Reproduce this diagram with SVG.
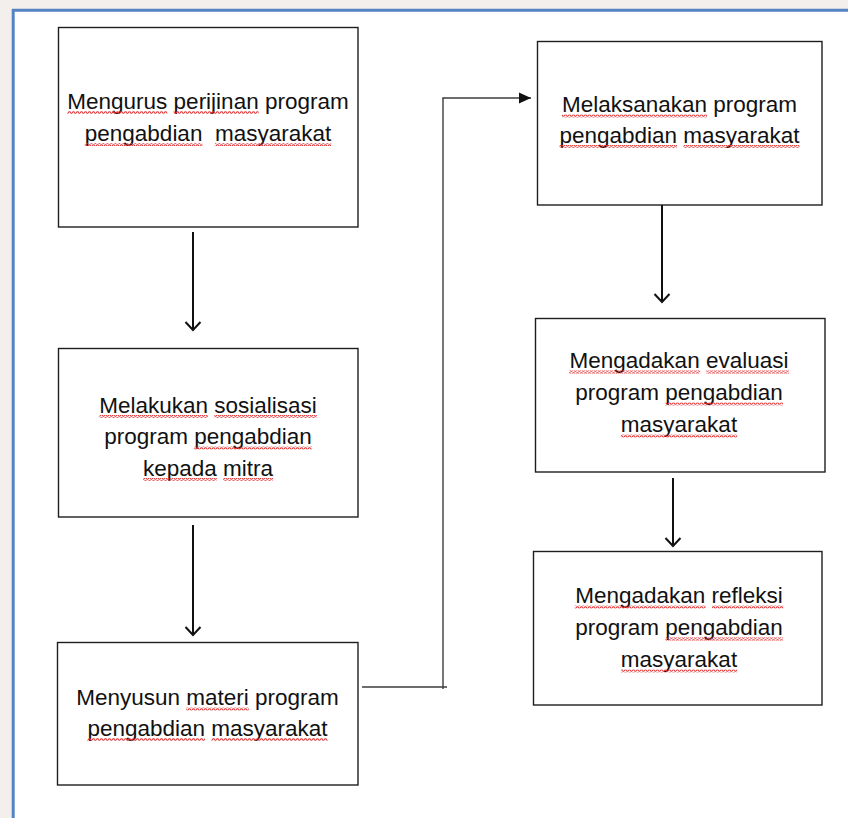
<svg xmlns="http://www.w3.org/2000/svg" width="848" height="818" viewBox="0 0 848 818">
  <style>
    .box { fill: #ffffff; stroke: #1e1e1e; stroke-width: 1.4; }
    .t { font-family: "Liberation Sans", Arial, sans-serif; font-size: 22.5px; fill: #111111; text-anchor: middle; white-space: pre; }
    .sq { fill: url(#wave); }
    .arr { stroke: #111; stroke-width: 2; fill: none; marker-end: url(#open); }
    .conn { stroke: #3c3c3c; stroke-width: 1.4; fill: none; }
  </style>
  <defs>
    <pattern id="wave" width="4" height="3" patternUnits="userSpaceOnUse">
      <path d="M0 2.3 L1 0.7 L2 0.7 L3 2.3 L4 2.3" stroke="#e5393b" stroke-width="1.1" fill="none"/>
    </pattern>
    <marker id="open" markerWidth="12" markerHeight="18" refX="10" refY="9" orient="auto" markerUnits="userSpaceOnUse" viewBox="0 0 12 18">
      <path d="M2 1.5 L10 9 L2 16.5" stroke="#111" stroke-width="2" fill="none"/>
    </marker>
    <marker id="fill" markerWidth="13" markerHeight="12" refX="12" refY="6" orient="auto" markerUnits="userSpaceOnUse" viewBox="0 0 13 12">
      <path d="M0 0.5 L12 6 L0 11.5 Z" fill="#111"/>
    </marker>
  </defs>

  <rect x="0" y="0" width="848" height="818" fill="#f2efec"/>
  <rect x="13" y="10" width="835" height="808" fill="#ffffff"/>
  <line x1="13.2" y1="9" x2="13.2" y2="818" stroke="#5584c2" stroke-width="3"/>
  <line x1="12" y1="10.3" x2="848" y2="10.3" stroke="#5584c2" stroke-width="3"/>

  <g id="connectors">
    <line class="arr" x1="193" y1="232" x2="193" y2="330"/>
    <line class="arr" x1="193" y1="525" x2="193" y2="635"/>
    <line class="arr" x1="662" y1="205" x2="662" y2="302"/>
    <line class="arr" x1="673" y1="478" x2="673" y2="546"/>
    <line class="conn" x1="362" y1="687" x2="447" y2="687"/>
    <line class="conn" x1="443" y1="689" x2="443" y2="98"/>
    <line class="conn" x1="442.3" y1="98" x2="531" y2="98" marker-end="url(#fill)"/>
  </g>

  <g id="node1">
    <rect class="box" x="58.5" y="27.5" width="299.5" height="199.5"/>
    <text class="t" x="208" y="108.5">Mengurus perijinan program</text>
    <text class="t" x="208" y="140.5">pengabdian  masyarakat</text>
    <rect class="sq" x="67.3" y="111" width="100" height="3"/>
    <rect class="sq" x="173.6" y="111" width="85" height="3"/>
    <rect class="sq" x="84.8" y="143" width="117.6" height="3"/>
    <rect class="sq" x="214.9" y="143" width="116.3" height="3"/>
  </g>

  <g id="node2">
    <rect class="box" x="58.5" y="348.5" width="299.5" height="168.5"/>
    <text class="t" x="208" y="412.5">Melakukan sosialisasi</text>
    <text class="t" x="208" y="444">program pengabdian</text>
    <text class="t" x="208" y="475.5">kepada mitra</text>
    <rect class="sq" x="99.2" y="415" width="108.8" height="3"/>
    <rect class="sq" x="214.3" y="415" width="102.5" height="3"/>
    <rect class="sq" x="194.3" y="446.5" width="117.6" height="3"/>
    <rect class="sq" x="143" y="478" width="73.8" height="3"/>
    <rect class="sq" x="223" y="478" width="50" height="3"/>
  </g>

  <g id="node3">
    <rect class="box" x="57.5" y="642.5" width="300.5" height="142.5"/>
    <text class="t" x="207.5" y="705">Menyusun materi program</text>
    <text class="t" x="207.5" y="735.5">pengabdian masyarakat</text>
    <rect class="sq" x="186.3" y="707.5" width="62.5" height="3"/>
    <rect class="sq" x="87.4" y="738" width="117.6" height="3"/>
    <rect class="sq" x="211.3" y="738" width="116.3" height="3"/>
  </g>

  <g id="node4">
    <rect class="box" x="537.5" y="41.5" width="284.5" height="163.5"/>
    <text class="t" x="679.5" y="112">Melaksanakan program</text>
    <text class="t" x="679.5" y="142.5">pengabdian masyarakat</text>
    <rect class="sq" x="562" y="114.5" width="145" height="3"/>
    <rect class="sq" x="559.4" y="145" width="117.6" height="3"/>
    <rect class="sq" x="683.3" y="145" width="116.3" height="3"/>
  </g>

  <g id="node5">
    <rect class="box" x="535.5" y="318.5" width="289.5" height="153.5"/>
    <text class="t" x="679" y="368">Mengadakan evaluasi</text>
    <text class="t" x="679" y="400">program pengabdian</text>
    <text class="t" x="679" y="432">masyarakat</text>
    <rect class="sq" x="569.1" y="370.5" width="131" height="3"/>
    <rect class="sq" x="706.4" y="370.5" width="82.5" height="3"/>
    <rect class="sq" x="665.3" y="402.5" width="117.6" height="3"/>
    <rect class="sq" x="620.9" y="434.5" width="116.3" height="3"/>
  </g>

  <g id="node6">
    <rect class="box" x="533.5" y="551.5" width="288.5" height="153.5"/>
    <text class="t" x="679" y="603">Mengadakan refleksi</text>
    <text class="t" x="679" y="635">program pengabdian</text>
    <text class="t" x="679" y="667">masyarakat</text>
    <rect class="sq" x="574.8" y="605.5" width="131" height="3"/>
    <rect class="sq" x="712" y="605.5" width="71.3" height="3"/>
    <rect class="sq" x="665.3" y="637.5" width="117.6" height="3"/>
    <rect class="sq" x="620.9" y="669.5" width="116.3" height="3"/>
  </g>
</svg>
